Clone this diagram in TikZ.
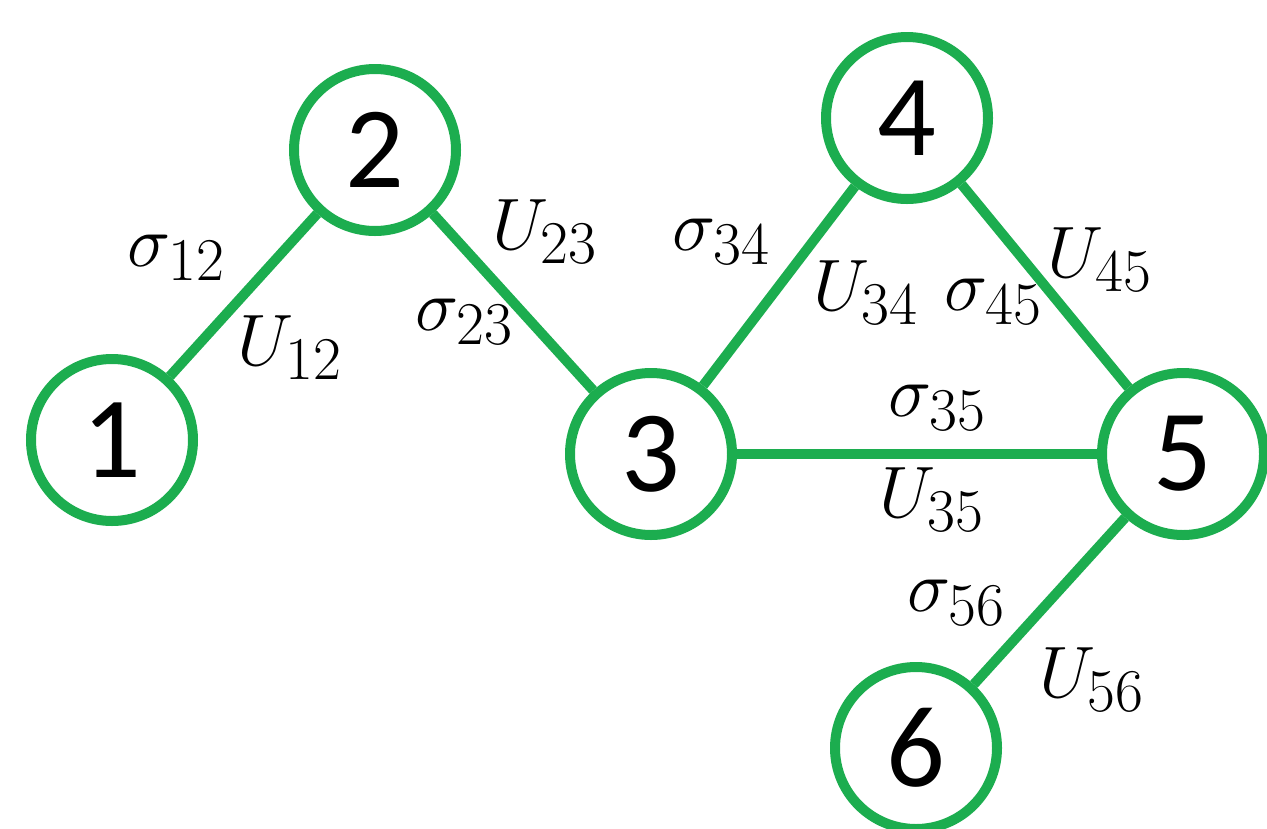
\documentclass[tikz,border=0pt]{standalone}
\usepackage{amsmath,amssymb}
\usepackage{fontspec}
\usepackage{tikz}
\usetikzlibrary{positioning,calc}
\newfontfamily\numfont{Carlito}
\definecolor{graphgreen}{HTML}{1CAD4F}
\DeclareMathSizes{21}{21}{16}{12}

\begin{document}
\begin{tikzpicture}[
site/.style={draw=graphgreen,circle,line width=1mm,minimum size=16.2mm,inner sep=0pt,font=\numfont\fontsize{33}{33}\selectfont},
bond/.style={draw=graphgreen,line width=1mm},
lab/.style={font=\fontsize{21}{21}\selectfont,inner sep=1pt}]
\useasboundingbox (0,0) rectangle (12.67,-8.28);
\node[site] (n1) at (1.12,-4.40) {1};
\node[site] (n2) at (3.75,-1.50) {2};
\node[site] (n3) at (6.51,-4.54) {3};
\node[site] (n4) at (9.07,-1.18) {4};
\node[site] (n5) at (11.83,-4.54) {5};
\node[site] (n6) at (9.16,-7.48) {6};
\draw[bond] (n1)--(n2);
\draw[bond] (n2)--(n3);
\draw[bond] (n3)--(n4);
\draw[bond] (n4)--(n5);
\draw[bond] (n3)--(n5);
\draw[bond] (n5)--(n6);
\node[lab] (s12) at (1.77,-2.58) {$\sigma_{12}$};
\node[lab] (u12) at (2.90,-3.48) {$U_{12}$};
\node[lab] (u23) at (5.45,-2.32) {$U_{23}$};
\node[lab] (s23) at (4.65,-3.22) {$\sigma_{23}$};
\node[lab] (s34) at (7.22,-2.42) {$\sigma_{34}$};
\node[lab] (u34) at (8.66,-2.93) {$U_{34}$};
\node[lab] (s45) at (9.94,-3.02) {$\sigma_{45}$};
\node[lab] (u45) at (11.00,-2.60) {$U_{45}$};
\node[lab] (s35) at (9.38,-4.08) {$\sigma_{35}$};
\node[lab] (u35) at (9.32,-5.00) {$U_{35}$};
\node[lab] (s56) at (9.57,-6.03) {$\sigma_{56}$};
\node[lab] (u56) at (10.92,-6.80) {$U_{56}$};
\end{tikzpicture}
\end{document}
